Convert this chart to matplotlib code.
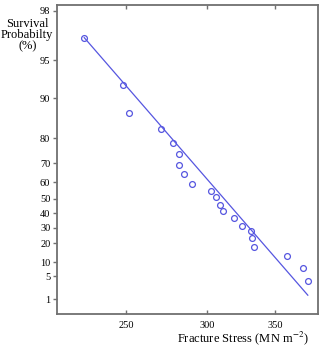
import numpy as np
import matplotlib
matplotlib.use("Agg")
import matplotlib.pyplot as plt
from matplotlib.ticker import NullLocator

# datos (probabilidad de supervivencia tipo Weibull)
stress = [227.4, 248.1, 251.7, 270.3, 277.9, 281.5, 281.5, 284.5, 289.8, 302.7, 306.1,
          308.8, 310.7, 318.9, 324.5, 330.9, 332.2, 333.7, 359.3, 372.5, 376.5]
survival = [96.7, 92.2, 87.1, 82.8, 78.3, 74.1, 69.3, 64.7, 59.0, 55.1, 50.9,
            45.9, 41.4, 36.7, 31.4, 27.6, 23.5, 17.6, 13.2, 7.9, 3.7]

# recta de ajuste (extremos)
fit_stress = [227.4, 376.5]
fit_survival = [96.7, 1.4]

x_ticks = [250, 300, 350]
y_ticks = [1, 5, 10, 20, 30, 40, 50, 60, 70, 80, 90, 95, 98]

plt.rcParams['font.family'] = ['Liberation Serif', 'DejaVu Serif']
plt.rcParams['mathtext.fontset'] = 'stix'


def weibull_fwd(s):
    s = np.asarray(s, dtype=float)
    with np.errstate(divide='ignore', invalid='ignore'):
        return -np.log(-np.log(s / 100.0))


def weibull_inv(y):
    y = np.asarray(y, dtype=float)
    return 100.0 * np.exp(-np.exp(-y))


color = '#5656e0'
axis_gray = '#707070'

fig = plt.figure(figsize=(3.28, 3.48), dpi=100)
ax = fig.add_axes([0.1747, 0.0968, 0.7939, 0.8888])

ax.plot(fit_stress, fit_survival, color=color, lw=0.9)
ax.plot(stress, survival, 'o', mfc='none', mec=color, ms=4.2, mew=0.9)

ax.set_xscale('log')
ax.set_yscale('function', functions=(weibull_fwd, weibull_inv))
ax.set_xlim(214, 385)
ax.set_ylim(0.22, 98.2)

ax.set_xticks(x_ticks, labels=[str(v) for v in x_ticks])
ax.xaxis.set_minor_locator(NullLocator())
ax.set_yticks(y_ticks, labels=[str(v) for v in y_ticks])
ax.yaxis.set_minor_locator(NullLocator())

ax.tick_params(axis='x', direction='in', top=True, length=3, width=1,
               color=axis_gray, labelsize=7.5, pad=5)
ax.tick_params(axis='y', direction='out', right=False, length=3, width=1,
               color=axis_gray, labelsize=7.5, pad=2)

for lado in ['left', 'bottom', 'top', 'right']:
    ax.spines[lado].set_color(axis_gray)
    ax.spines[lado].set_linewidth(1.3)

fig.text(0.083, 0.948, 'Survival\nProbabilty\n(%)', ha='center', va='top',
         fontsize=9, linespacing=0.9)
fig.text(0.94, 0.028, 'Fracture Stress (MN m$^{-2}$)', ha='right', va='center',
         fontsize=9)

plt.savefig('out.png', dpi=100)
